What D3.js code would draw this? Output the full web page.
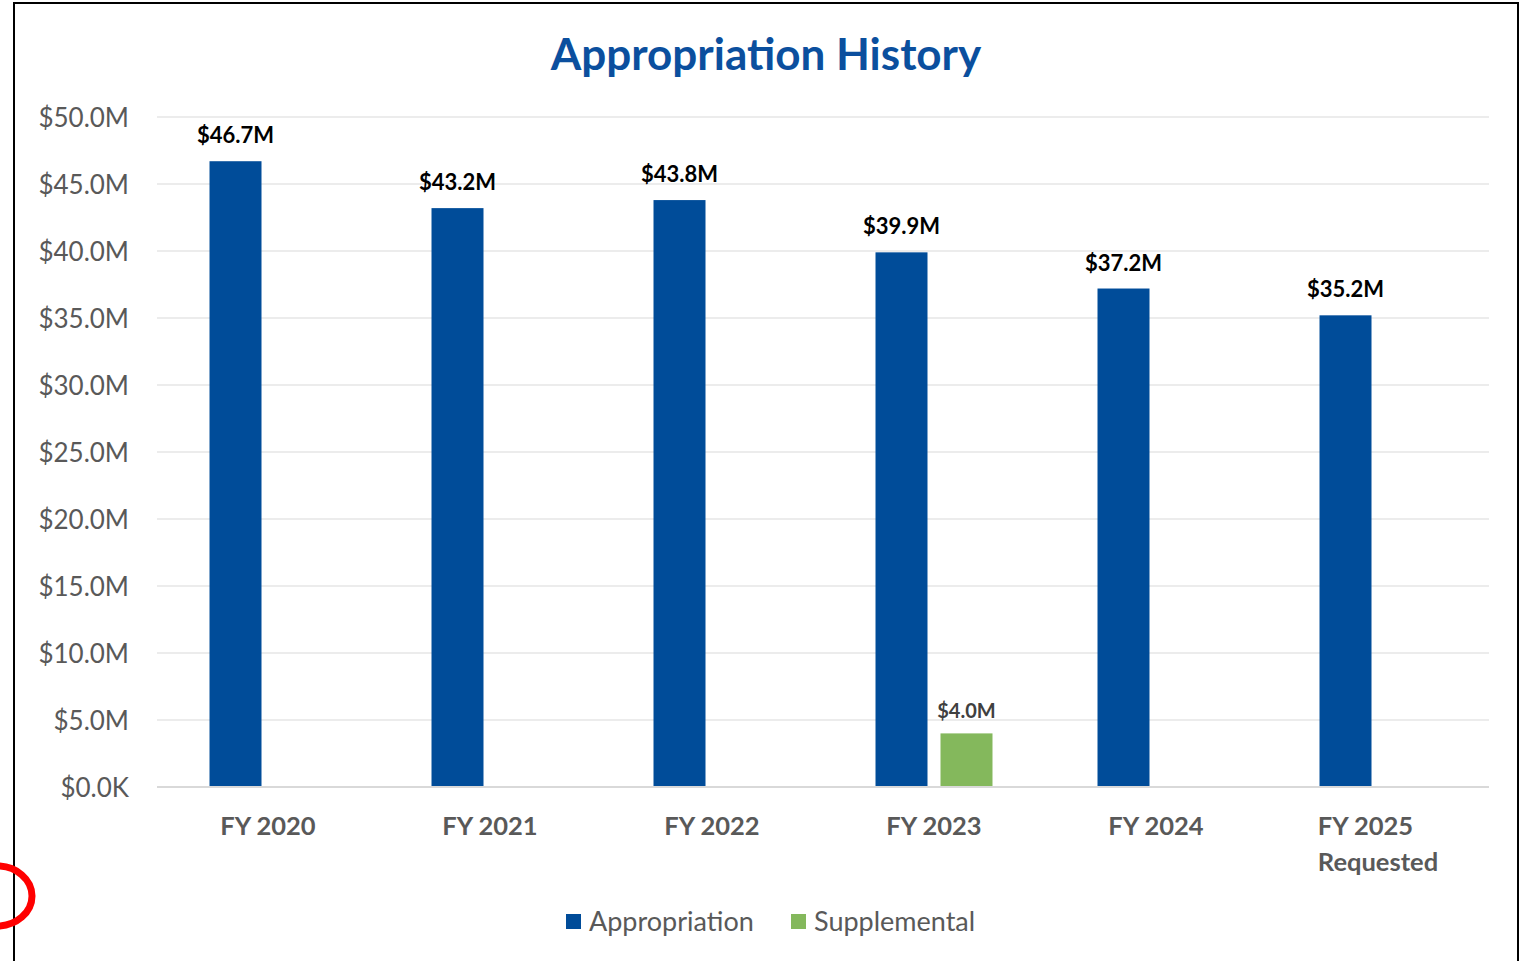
<!DOCTYPE html>
<html>
<head>
<meta charset="utf-8">
<script src="https://cdn.jsdelivr.net/npm/d3@7"></script>
<style>
  html, body { margin: 0; padding: 0; background: #fff; }
  svg { display: block; }
  text { font-family: Lato, "Open Sans", sans-serif; }
</style>
</head>
<body>
<svg id="chart" width="1524" height="961"></svg>
<script>
const categories = ["FY 2020", "FY 2021", "FY 2022", "FY 2023", "FY 2024", "FY 2025\nRequested"];
const seriesNames = ["Appropriation", "Supplemental"];
const appropriation = [46.7, 43.2, 43.8, 39.9, 37.2, 35.2];
const supplemental = [null, null, null, 4.0, null, null];
const yTicks = [0, 5, 10, 15, 20, 25, 30, 35, 40, 45, 50];
const colors = ["#004C99", "#84B85C"];

const svg = d3.select("#chart");
const m = { left: 157, right: 1489, top: 117, bottom: 787 };

// frame
svg.append("rect").attr("x", 14).attr("y", 3).attr("width", 1504).attr("height", 1000)
  .attr("fill", "none").attr("stroke", "#000").attr("stroke-width", 2);

const x = d3.scaleBand().domain(categories).range([m.left, m.right])
  .paddingInner(0.473).paddingOuter(0.2365);
const xs = d3.scaleBand().domain(seriesNames).range([0, x.bandwidth()]).paddingInner(0.2);
const y = d3.scaleLinear().domain([0, 50]).range([m.bottom, m.top]);

// gridlines
svg.append("g").selectAll("line").data(yTicks.filter(d => d !== 0)).join("line")
  .attr("x1", m.left).attr("x2", m.right)
  .attr("y1", d => y(d)).attr("y2", d => y(d))
  .attr("stroke", "#d9d9d9").attr("stroke-width", 1);

// y axis labels
const yAxis = d3.axisLeft(y).tickValues(yTicks).tickSize(0).tickPadding(0)
  .tickFormat(d => d === 0 ? "$0.0K" : "$" + d.toFixed(1) + "M");
const gy = svg.append("g").attr("transform", `translate(129,0)`).call(yAxis);
gy.select(".domain").remove();
gy.selectAll("text").attr("fill", "#595959").style("font-size", "26px")
  .style("font-family", "Lato, 'Open Sans', sans-serif").attr("dy", "0.35em");

// bars
const data = categories.map((c, i) => ({ c, vals: [appropriation[i], supplemental[i]] }));
const groups = svg.append("g").selectAll("g").data(data).join("g")
  .attr("transform", d => `translate(${x(d.c)},0)`);
groups.selectAll("rect").data(d => d.vals.map((v, j) => ({ v, s: seriesNames[j], j })).filter(e => e.v != null))
  .join("rect")
  .attr("x", e => xs(e.s)).attr("width", xs.bandwidth())
  .attr("y", e => y(e.v)).attr("height", e => y(0) - y(e.v))
  .attr("fill", e => colors[e.j]);
groups.selectAll("text.lbl").data(d => d.vals.map((v, j) => ({ v, s: seriesNames[j], j })).filter(e => e.v != null))
  .join("text").attr("class", "lbl")
  .attr("x", e => xs(e.s) + xs.bandwidth() / 2)
  .attr("y", e => y(e.v) - (e.j === 0 ? 18 : 15))
  .attr("text-anchor", "middle")
  .attr("fill", e => e.j === 0 ? "#000" : "#404040")
  .style("font-size", e => e.j === 0 ? "22px" : "20px")
  .style("font-weight", "bold")
  .text(e => "$" + e.v.toFixed(1) + "M");

// baseline
svg.append("line").attr("x1", m.left).attr("x2", m.right)
  .attr("y1", y(0)).attr("y2", y(0)).attr("stroke", "#d9d9d9").attr("stroke-width", 2);

// x labels
const xl = svg.append("g").selectAll("text").data(categories).join("text")
  .attr("fill", "#595959").style("font-size", "25.5px").style("font-weight", "bold")
  .attr("y", 835);
xl.each(function(d) {
  const t = d3.select(this);
  const lines = d.split("\n");
  lines.forEach((ln, k) => {
    t.append("tspan").attr("dy", k === 0 ? 0 : 36).text(ln);
  });
  let maxw = 0;
  t.selectAll("tspan").each(function() { maxw = Math.max(maxw, this.getComputedTextLength()); });
  const cx = x(d) + x.bandwidth() / 2;
  t.selectAll("tspan").attr("x", cx - maxw / 2);
});

// title
svg.append("text").attr("x", 766).attr("y", 70).attr("text-anchor", "middle")
  .attr("fill", "#0B4F9E").style("font-size", "44px").style("font-weight", "bold")
  .text("Appropriation History");

// legend
const leg = svg.append("g");
const legItems = [{ n: seriesNames[0], x: 566 }, { n: seriesNames[1], x: 791 }];
legItems.forEach((it, i) => {
  leg.append("rect").attr("x", it.x).attr("y", 914).attr("width", 15).attr("height", 15).attr("fill", colors[i]);
  leg.append("text").attr("x", it.x + 23).attr("y", 931).attr("fill", "#595959")
    .style("font-size", "27px").text(it.n);
});

// red annotation arc
svg.append("ellipse").attr("cx", -3).attr("cy", 896).attr("rx", 35).attr("ry", 30)
  .attr("fill", "none").attr("stroke", "#ff0000").attr("stroke-width", 7);
</script>
</body>
</html>
